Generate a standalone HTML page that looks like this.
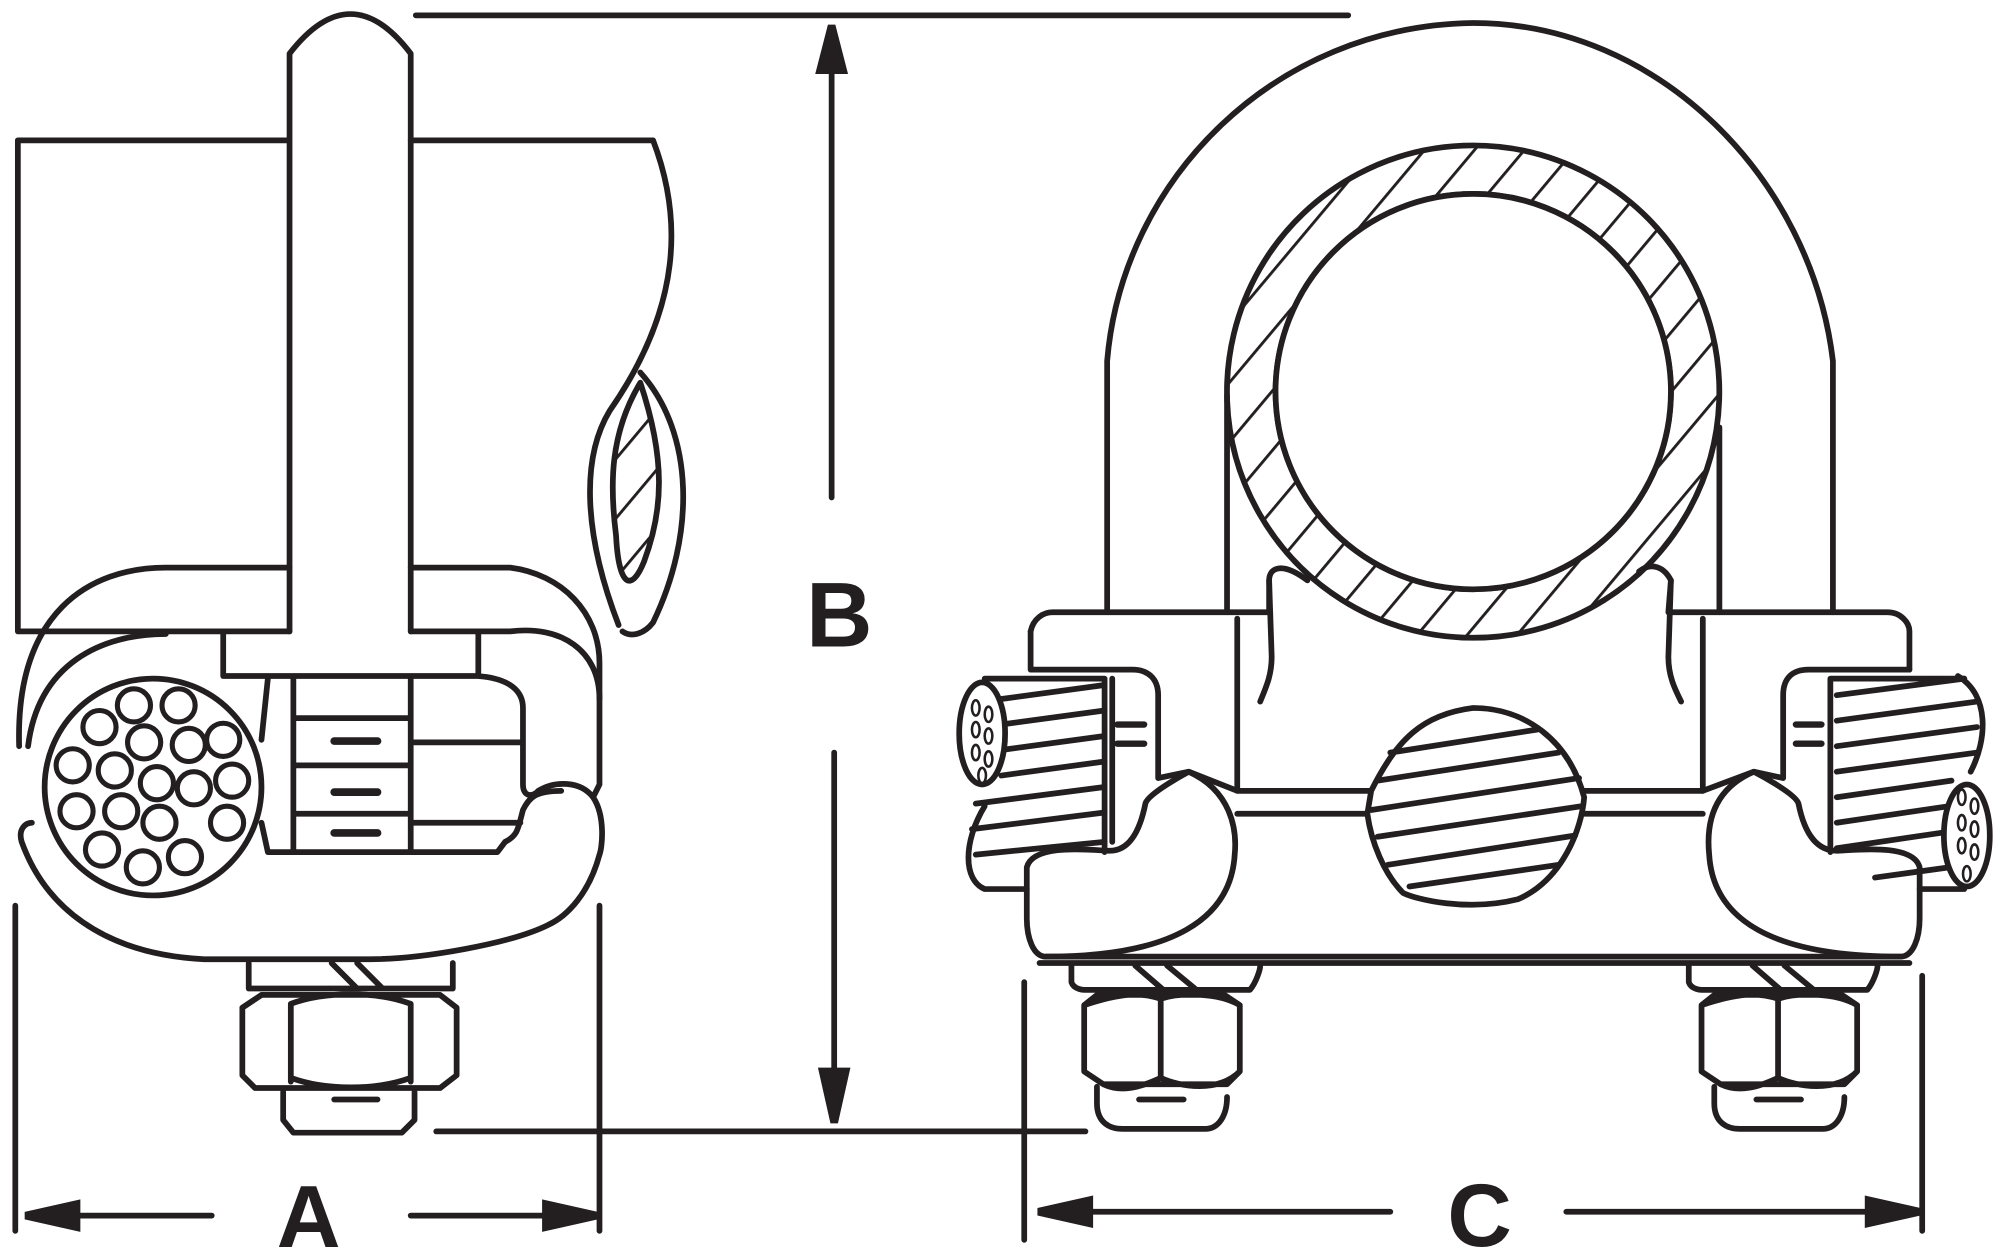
<!DOCTYPE html>
<html><head><meta charset="utf-8"><style>html,body{margin:0;padding:0;background:#fff}svg{display:block}</style></head>
<body>
<svg width="2000" height="1247" viewBox="0 0 1568 977.6" xmlns="http://www.w3.org/2000/svg">
<defs>
<pattern id="h" width="30" height="30" patternUnits="userSpaceOnUse" patternTransform="rotate(40)">
<line x1="0" y1="0" x2="0" y2="30" stroke="#231f20" stroke-width="4.5"/>
</pattern>
<marker id="ar" markerWidth="10" markerHeight="8" refX="10" refY="4" orient="auto" markerUnits="userSpaceOnUse"><path d="M0,0 L10,4 L0,8Z" fill="#231f20"/></marker>
</defs>
<g fill="none" stroke="#231f20" stroke-width="4.5" stroke-linejoin="round" stroke-linecap="round">
<path d="M225,110 H14 V495 H30"/>
<path d="M322,110 H512 C535,170 535,240 478,322 C455,360 458,420 485,490"/>
<path d="M502,292 C545,340 545,420 512,488 C505,497 495,500 488,495"/>
<path d="M502,300 C478,340 478,380 483,420 C485,460 495,465 505,440 C520,400 522,360 502,300Z" fill="url(#h)"/>
<path d="M227,495 V42 Q275,-20 322,42 V495"/>
<path d="M30,495 H227 M322,495 H400 C440,490 470,510 470,548"/>
<path d="M15,585 C12,480 70,445 130,445 H227 M322,445 H400 C440,450 470,480 470,520 V615 L465,625"/>
<path d="M22,585 C30,520 80,497 130,497"/>
<path d="M175,497 V530 H375 V497 M375,530 C400,532 410,542 410,555 V615 C410,625 418,625 422,620 C435,612 455,612 465,625 C475,640 472,665 470,670 C462,700 445,718 430,725 C400,740 330,752 290,752 H160 C80,748 35,710 17,660 C14,650 20,645 25,645"/>
<path d="M410,635 C415,625 420,620 440,620 M410,635 C406,650 406,655 396,660 L390,668 H210 L205,645 M210,532 L205,580"/>
<path d="M230,532 V668 M322,532 V668 M230,563 H322 M230,600 H322 M230,638 H322 M322,582 H408 M322,645 H408"/>
<path d="M262,581 H296 M262,621 H296 M262,653 H296" stroke-width="6"/>
<circle cx="120" cy="617" r="85"/>
<g stroke-width="4" fill="#fff">
<circle cx="105" cy="553" r="13"/><circle cx="140" cy="553" r="13"/><circle cx="78" cy="570" r="13"/><circle cx="113" cy="582" r="13"/><circle cx="148" cy="584" r="13"/><circle cx="175" cy="580" r="13"/>
<circle cx="57" cy="600" r="13"/><circle cx="90" cy="604" r="13"/><circle cx="123" cy="614" r="13"/><circle cx="152" cy="618" r="13"/><circle cx="182" cy="612" r="13"/>
<circle cx="60" cy="636" r="13"/><circle cx="95" cy="636" r="13"/><circle cx="125" cy="645" r="13"/><circle cx="178" cy="645" r="13"/>
<circle cx="80" cy="666" r="13"/><circle cx="112" cy="680" r="13"/><circle cx="145" cy="672" r="13"/>
</g>
<path d="M195,755 V775 H355 V755 M260,755 L280,775 M280,755 L300,775"/>
<path d="M205,780 L190,790 V843 L200,853 H345 L358,843 V790 L345,780 Z M228,787 V848 M322,787 V848 M228,787 C255,777 295,777 322,787 M228,845 C255,855 295,855 322,845"/>
<path d="M222,856 V878 L230,888 H315 L325,878 V856 M262,862 H296" />
<path d="M868,480 V283 C880,140 1000,20 1155,18 C1300,18 1420,140 1437,283 V480"/>
<path d="M1155,114 A193,193 0 1 1 1154.9,114 Z M1155,152 A155,155 0 1 0 1155.1,152 Z" fill="url(#h)" fill-rule="evenodd"/>
<circle cx="1155" cy="307" r="155" fill="#fff"/>
<path d="M962,310 V480 M1348,335 V480"/>
<path d="M808,495 C810,485 818,480 825,480 H995 V455 C995,445 1005,440 1025,455 M1310,455 C1305,445 1295,440 1285,448 M1310,455 L1308,480 H1480 C1490,480 1497,488 1497,495 V525"/>
<path d="M995,455 L997,515 C997,530 992,540 988,550 M1310,455 L1308,515 C1308,530 1313,540 1318,550"/>
<path d="M970,485 V620 H1075 M1335,485 V620 H1240 M970,638 H1072 M1335,638 H1242"/>
<path d="M808,495 V525 H888 C900,525 908,532 908,545 V610 L932,605 L970,620 M1497,525 H1418 C1405,525 1398,532 1398,545 V610 L1375,605 L1335,620"/>
<path d="M932,605 C965,620 970,650 968,670 C965,720 920,750 820,750 C810,750 805,735 805,720 V680 C810,660 860,667 870,667 C890,667 896,640 898,630 C900,622 932,605 932,605Z"/>
<path d="M1375,605 C1340,620 1338,650 1340,670 C1343,720 1388,750 1490,750 C1500,750 1505,735 1505,720 V680 C1500,660 1450,667 1440,667 C1418,667 1412,640 1410,630 C1408,622 1375,605 1375,605Z"/>
<path d="M1075,620 C1095,580 1115,560 1155,555 C1195,555 1230,580 1242,625 C1240,650 1225,690 1190,705 C1150,715 1110,705 1100,700 C1085,685 1075,660 1072,638 Z" fill="#fff"/>
<path d="M1090,590 L1205,572 M1080,612 L1222,590 M1075,635 L1238,610 M1080,656 L1240,632 M1088,678 L1235,655 M1105,695 L1222,678"/>
<path d="M772,532 H866 V668 M1435,532 H1540 M1435,668 V532 M872,532 V660 M1435,542 V660"/>
<path d="M785,548 L866,537 M785,568 L866,557 M785,588 L866,577 M785,608 L866,597 M765,630 L866,617 M762,650 L866,637 M765,670 L866,660"/>
<path d="M1440,545 L1540,532 M1440,565 L1550,550 M1440,585 L1550,570 M1440,605 L1550,590 M1440,625 L1530,612 M1440,645 L1528,632 M1440,665 L1528,652 M1470,688 L1528,680"/>
<ellipse cx="770" cy="575" rx="18" ry="40" fill="#fff"/>
<path d="M772,632 C755,660 755,690 772,697 H805"/>
<ellipse cx="1542" cy="655" rx="18" ry="40" fill="#fff"/>
<path d="M1535,530 C1560,545 1558,580 1545,605 M1505,697 H1540"/>
<path d="M876,568 H897 M876,583 H897 M1408,568 H1428 M1408,583 H1428" stroke-width="5"/>
<g stroke-width="2"><ellipse cx="765" cy="555" rx="3" ry="6"/><ellipse cx="775" cy="560" rx="3" ry="6"/><ellipse cx="765" cy="572" rx="3" ry="6"/><ellipse cx="775" cy="577" rx="3" ry="6"/><ellipse cx="765" cy="590" rx="3" ry="6"/><ellipse cx="775" cy="595" rx="3" ry="6"/><ellipse cx="770" cy="608" rx="3" ry="6"/>
<ellipse cx="1538" cy="625" rx="3" ry="6"/><ellipse cx="1548" cy="632" rx="3" ry="6"/><ellipse cx="1538" cy="645" rx="3" ry="6"/><ellipse cx="1548" cy="650" rx="3" ry="6"/><ellipse cx="1538" cy="663" rx="3" ry="6"/><ellipse cx="1548" cy="668" rx="3" ry="6"/><ellipse cx="1542" cy="685" rx="3" ry="6"/></g>
<path d="M820,750 H1490 M815,755 H1497"/>
<g id="nut">
<path d="M840,757 V770 C842,776 850,776 850,776 H980 C985,770 988,760 988,757 M890,757 L912,776 M915,757 L938,776"/>
<path d="M860,780 L850,788 V840 L865,850 H962 L972,840 V788 L960,780 Z M910,783 V845 M850,788 C880,778 895,778 910,783 C925,778 955,778 972,788 M865,850 C880,857 895,852 910,845 C925,852 955,857 972,840"/>
<path d="M860,852 V865 C860,880 870,885 880,885 H945 C955,885 962,875 962,860 M893,862 H928"/>
</g>
<use href="#nut" x="484"/>
<path d="M326,12 H1057 M342,887 H851"/>
<path d="M652,390 V22" marker-end="url(#ar)"/>
<path d="M654,590 V878" marker-end="url(#ar)"/>
<path d="M12,710 V965 M470,710 V965 M803,770 V972 M1507,765 V965"/>
<path d="M166,953 H22" marker-end="url(#ar)"/>
<path d="M322,953 H466" marker-end="url(#ar)"/>
<path d="M1090,950 H816" marker-end="url(#ar)"/>
<path d="M1228,950 H1503" marker-end="url(#ar)"/>
</g>
<g fill="#231f20" stroke="#231f20" stroke-width="6" stroke-linejoin="miter">
<path d="M652,20 L643,55 H661 Z"/><path d="M654,880 L645,840 H663 Z"/>
<path d="M20,953 L60,944 V962 Z"/><path d="M468,953 L428,944 V962 Z"/>
<path d="M814,950 L854,941 V959 Z"/><path d="M1505,950 L1465,941 V959 Z"/>
</g>
<g font-family="Liberation Sans, sans-serif" font-weight="bold" fill="#231f20" text-anchor="middle">
<text x="658" y="507" font-size="72">B</text>
<text x="242" y="978" font-size="70">A</text>
<text x="1160" y="977" font-size="70">C</text>
</g>
</svg>
</body></html>
